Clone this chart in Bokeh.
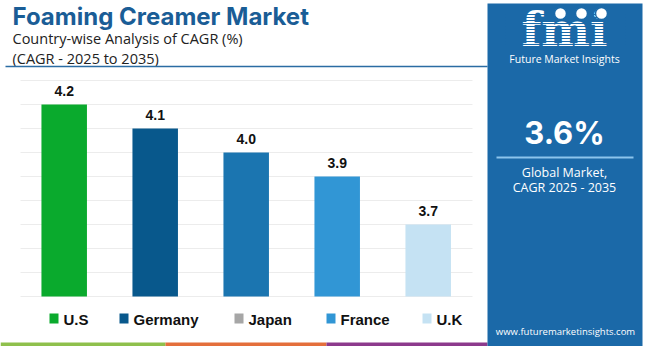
from bokeh.plotting import figure
from bokeh.models import Range1d
from bokeh.embed import file_html
from bokeh.resources import INLINE
from bokeh.core.properties import value

# ---------------- data ----------------
countries = ["U.S", "Germany", "Japan", "France", "U.K"]
cagr = [4.2, 4.1, 4.0, 3.9, 3.7]
bar_colors = ["#0aaa2d", "#08588c", "#1b75b0", "#3196d5", "#c5e2f3"]
legend_colors = ["#0aaa2d", "#08588c", "#a6a6a6", "#3196d5", "#c5e2f3"]
y_ticks = [3.4, 3.5, 3.6, 3.7, 3.8, 3.9, 4.0, 4.1, 4.2, 4.3]
y_floor = 3.4
global_cagr = "3.6%"
title = "Foaming Creamer Market"
subtitle1 = "Country-wise Analysis of CAGR (%)"
subtitle2 = "(CAGR - 2025 to 2035)"
panel_lines = ["Global Market,", "CAGR 2025 - 2035"]
website = "www.futuremarketinsights.com"

W, H = 650, 346
idx = list(range(len(countries)))

p = figure(width=W, height=H, output_backend="svg", toolbar_location=None,
           x_axis_type=None, y_axis_type=None,
           x_range=Range1d(-0.7, -0.7 + W / 91.0),
           y_range=Range1d(3.4 - 50 / 240.0, 3.4 - 50 / 240.0 + H / 240.0),
           min_border=0, outline_line_color=None,
           background_fill_color="white", border_fill_color="white")
p.extra_x_ranges = {"px": Range1d(0, W)}
p.extra_y_ranges = {"px": Range1d(H, 0)}
PX = dict(x_range_name="px", y_range_name="px")

# gridlines
p.segment(x0=[20] * len(y_ticks), x1=[472] * len(y_ticks), y0=y_ticks, y1=y_ticks,
          line_color="#ececec", line_width=1, x_range_name="px")

# bars
p.vbar(x=idx, top=cagr, bottom=y_floor, width=0.5, fill_color=bar_colors, line_color=None)

# value labels
p.text(x=idx, y=cagr, text=[f"{v:.1f}" for v in cagr], y_offset=-14,
       text_align="center", text_baseline="middle",
       text_font=value("Liberation Sans"), text_font_style="bold",
       text_font_size="14px", text_color="#111111")

# title block
p.text(x=[12], y=[16], text=[title], text_font=value("Inter"), text_font_style="bold",
       text_font_size="24px", text_color="#1a5d96", text_baseline="middle", **PX)
p.text(x=[12], y=[37.5], text=[subtitle1], text_font=value("Open Sans"),
       text_font_size="14.5px", text_color="#222222", text_baseline="middle", **PX)
p.text(x=[12], y=[57.5], text=[subtitle2], text_font=value("Open Sans"),
       text_font_size="14.5px", text_color="#222222", text_baseline="middle", **PX)
p.segment(x0=[5], x1=[487], y0=[66], y1=[66], line_color="#2b6ca3", line_width=1.5, **PX)

# legend (custom)
sw_x = [49, 119, 234, 326, 422]
p.rect(x=[s + 4.5 for s in sw_x], y=[318] * 5, width=9, height=10,
       fill_color=legend_colors, line_color=None, **PX)
p.text(x=[s + 14 for s in sw_x], y=[318.5] * 5, text=countries,
       text_font=value("Liberation Sans"), text_font_style="bold",
       text_font_size="15px", text_color="#111111", text_baseline="middle", **PX)

# bottom stripes
p.quad(left=[0, 165, 326], right=[165, 326, 487], top=[342, 342, 342], bottom=[346, 346, 346],
       fill_color=["#8fc04c", "#e46f3b", "#8c3a8c"], line_color=None, **PX)

# right panel
panel = "#1b69a8"
p.quad(left=[487], right=[642], top=[3], bottom=[346], fill_color=panel, line_color=None, **PX)

# logo
p.text(x=[564], y=[29], text=["fmi"], text_font=value("DejaVu Serif"), text_font_style="bold",
       text_font_size="46px", text_color="white", text_align="center",
       text_baseline="middle", **PX)
stripe_y = [14 + 3 * k for k in range(11)]
p.segment(x0=[505] * len(stripe_y), x1=[625] * len(stripe_y), y0=stripe_y, y1=stripe_y,
          line_color=panel, line_width=1, **PX)
p.scatter(x=[560, 581, 601], y=[13, 13, 13], size=12, marker="circle",
          fill_color="white", line_color=panel, line_width=1.5, **PX)
p.text(x=[564], y=[58], text=["Future Market Insights"], text_font=value("Open Sans"),
       text_font_size="10.5px", text_color="white", text_align="center",
       text_baseline="middle", **PX)

# big number
p.text(x=[564], y=[132], text=[global_cagr], text_font=value("Inter"), text_font_style="bold",
       text_font_size="31px", text_color="white", text_align="center",
       text_baseline="middle", **PX)
p.segment(x0=[496], x1=[633], y0=[157], y1=[157], line_color="#8cc4ec", line_width=2, **PX)
p.text(x=[564, 564], y=[172, 187], text=panel_lines, text_font=value("Open Sans"),
       text_font_size="12.5px", text_color="white", text_align="center",
       text_baseline="middle", **PX)
p.text(x=[565], y=[331], text=[website], text_font=value("Open Sans"),
       text_font_size="9.5px", text_color="white", text_align="center",
       text_baseline="middle", **PX)

open("out.html", "w").write(file_html(p, INLINE))
